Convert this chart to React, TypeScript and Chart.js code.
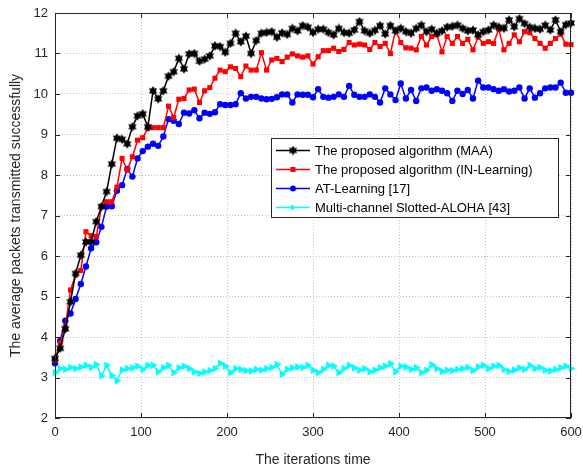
import React, { useEffect, useRef } from 'react';
import { Chart, registerables } from 'chart.js';
Chart.register(...registerables);

// ---- data ----
const STEP = 6;
const maaValues = [
  3.47, 3.72, 4.20, 4.87, 5.57, 6.02, 6.35, 6.35, 6.85, 7.22, 7.59, 8.27, 8.91, 8.88, 8.77, 9.19, 9.46, 9.51, 9.19, 10.08,
  9.88, 10.08, 10.44, 10.55, 10.88, 10.62, 10.99, 11.00, 10.81, 10.86, 10.94, 11.19, 11.17, 11.03, 11.25, 11.50, 11.29, 11.43, 11.00, 11.32,
  11.50, 11.52, 11.54, 11.40, 11.51, 11.47, 11.62, 11.56, 11.69, 11.65, 11.52, 11.60, 11.60, 11.52, 11.46, 11.62, 11.52, 11.50, 11.58, 11.79,
  11.56, 11.50, 11.57, 11.69, 11.48, 11.69, 11.56, 11.62, 11.54, 11.50, 11.62, 11.70, 11.54, 11.60, 11.50, 11.56, 11.65, 11.67, 11.70, 11.62,
  11.56, 11.58, 11.46, 11.54, 11.58, 11.70, 11.65, 11.62, 11.83, 11.66, 11.86, 11.74, 11.65, 11.62, 11.60, 11.70, 11.58, 11.83, 11.54, 11.71,
  11.75,
];
const inLearningValues = [
  3.43, 3.85, 4.25, 5.16, 5.53, 5.64, 6.60, 6.50, 6.48, 7.22, 7.34, 7.34, 7.70, 8.41, 8.12, 8.45, 8.86, 8.92, 9.15, 9.17,
  9.17, 9.17, 9.70, 9.42, 9.87, 9.89, 10.10, 10.12, 9.79, 10.08, 10.16, 10.39, 10.59, 10.55, 10.67, 10.63, 10.43, 10.69, 10.59, 10.59,
  11.02, 10.59, 10.84, 10.88, 10.80, 10.91, 10.99, 10.94, 10.91, 10.94, 10.74, 10.92, 11.07, 11.07, 11.13, 11.05, 11.10, 11.27, 11.21, 11.23,
  11.21, 11.10, 11.27, 11.17, 11.25, 11.00, 11.58, 11.27, 11.14, 11.13, 11.09, 11.42, 11.21, 11.42, 11.46, 11.04, 11.42, 11.25, 11.42, 11.25,
  11.35, 11.09, 11.40, 11.25, 11.29, 11.25, 11.60, 11.09, 11.25, 11.46, 11.29, 11.54, 11.51, 11.37, 11.25, 11.13, 11.25, 11.37, 11.48, 11.23,
  11.22,
];
const atLearningValues = [
  3.35, 3.91, 4.40, 4.58, 4.94, 5.31, 5.74, 6.19, 6.34, 6.72, 7.22, 7.23, 7.61, 7.75, 8.15, 7.96, 8.41, 8.59, 8.70, 8.77,
  8.72, 8.95, 9.38, 9.34, 9.26, 9.54, 9.52, 9.60, 9.40, 9.54, 9.51, 9.55, 9.75, 9.73, 9.73, 9.75, 10.02, 9.89, 9.93, 9.93,
  9.89, 9.87, 9.88, 9.92, 9.99, 9.99, 9.79, 9.99, 9.98, 9.98, 9.92, 10.12, 9.93, 9.91, 9.93, 9.99, 9.93, 10.20, 9.98, 9.93,
  9.93, 9.99, 9.93, 9.79, 10.14, 9.99, 9.85, 10.26, 9.89, 10.10, 9.83, 10.14, 10.16, 10.08, 10.12, 10.08, 10.02, 9.83, 10.08, 10.00,
  10.10, 9.89, 10.33, 10.16, 10.16, 10.12, 10.08, 10.12, 10.06, 10.08, 10.16, 9.89, 10.14, 9.91, 10.02, 10.14, 10.16, 10.16, 10.28, 10.03,
  10.03,
];
const alohaValues = [
  3.12, 3.22, 3.20, 3.25, 3.22, 3.26, 3.30, 3.25, 3.32, 3.04, 3.30, 3.05, 2.92, 3.18, 3.22, 3.24, 3.28, 3.20, 3.30, 3.30,
  3.14, 3.24, 3.30, 3.12, 3.24, 3.28, 3.22, 3.14, 3.10, 3.14, 3.17, 3.22, 3.35, 3.28, 3.12, 3.22, 3.20, 3.17, 3.16, 3.20,
  3.18, 3.22, 3.25, 3.32, 3.08, 3.20, 3.24, 3.26, 3.25, 3.30, 3.18, 3.12, 3.20, 3.30, 3.28, 3.12, 3.22, 3.30, 3.24, 3.18,
  3.22, 3.14, 3.18, 3.24, 3.28, 3.34, 3.14, 3.28, 3.26, 3.20, 3.24, 3.12, 3.18, 3.32, 3.22, 3.15, 3.18, 3.17, 3.20, 3.22,
  3.25, 3.17, 3.26, 3.30, 3.22, 3.28, 3.30, 3.20, 3.15, 3.18, 3.24, 3.20, 3.30, 3.22, 3.25, 3.18, 3.16, 3.20, 3.24, 3.28,
  3.22,
];
const seriesLabels = [
  'The proposed algorithm (MAA)',
  'The proposed algorithm (IN-Learning)',
  'AT-Learning [17]',
  'Multi-channel Slotted-ALOHA [43]',
];
const xTickValues = [0, 100, 200, 300, 400, 500, 600];
const yTickValues = [2, 3, 4, 5, 6, 7, 8, 9, 10, 11, 12];
const xTitle = 'The iterations time';
const yTitle = 'The average packets transmitted successfully';

const FONT = '"Liberation Sans", Arial, Helvetica, sans-serif';
const AXIS_COLOR = '#262626';

function toPoints(vals: number[]) {
  return vals.map((v, i) => ({ x: i * STEP, y: v }));
}

function makeHexagram(size: number, color: string) {
  const c = document.createElement('canvas');
  c.width = size;
  c.height = size;
  const g = c.getContext('2d')!;
  const cx = size / 2;
  const r = size / 2 - 0.2;
  g.fillStyle = color;
  g.beginPath();
  for (let k = 0; k < 12; k++) {
    const ang = -Math.PI / 2 + (k * Math.PI) / 6;
    const rr = k % 2 === 0 ? r : r * 0.577;
    const px = cx + rr * Math.cos(ang);
    const py = cx + rr * Math.sin(ang);
    if (k === 0) g.moveTo(px, py);
    else g.lineTo(px, py);
  }
  g.closePath();
  g.fill();
  return c;
}

function drawMarker(ctx: CanvasRenderingContext2D, kind: string, x: number, y: number, color: string, hex: HTMLCanvasElement) {
  ctx.save();
  ctx.fillStyle = color;
  ctx.strokeStyle = color;
  if (kind === 'hex') {
    ctx.drawImage(hex, x - hex.width / 2, y - hex.height / 2);
  } else if (kind === 'rect') {
    ctx.fillRect(x - 2.5, y - 2.5, 5, 5);
  } else if (kind === 'circle') {
    ctx.beginPath();
    ctx.arc(x, y, 3, 0, Math.PI * 2);
    ctx.fill();
  } else if (kind === 'tri') {
    ctx.beginPath();
    ctx.moveTo(x + 3.5, y);
    ctx.lineTo(x - 2, y - 3);
    ctx.lineTo(x - 2, y + 3);
    ctx.closePath();
    ctx.fill();
  }
  ctx.restore();
}

export default function App() {
  const ref = useRef<HTMLCanvasElement | null>(null);
  useEffect(() => {
    if (!ref.current) return;
    const hex = makeHexagram(10, '#000000');
    const markerKinds = ['hex', 'rect', 'circle', 'tri'];

    const framePlugin = {
      id: 'frame',
      afterDatasetsDraw(chart: any) {
        const { ctx, chartArea: a, scales } = chart;
        ctx.save();
        ctx.strokeStyle = AXIS_COLOR;
        ctx.lineWidth = 1;
        ctx.strokeRect(a.left + 0.5, a.top + 0.5, a.right - a.left - 1, a.bottom - a.top - 1);
        const tl = 5;
        ctx.beginPath();
        scales.x.ticks.forEach((t: any) => {
          const px = Math.round(scales.x.getPixelForValue(t.value)) + 0.5;
          ctx.moveTo(px, a.bottom);
          ctx.lineTo(px, a.bottom - tl);
          ctx.moveTo(px, a.top);
          ctx.lineTo(px, a.top + tl);
        });
        scales.y.ticks.forEach((t: any) => {
          const py = Math.round(scales.y.getPixelForValue(t.value)) + 0.5;
          ctx.moveTo(a.left, py);
          ctx.lineTo(a.left + tl, py);
          ctx.moveTo(a.right, py);
          ctx.lineTo(a.right - tl, py);
        });
        ctx.stroke();

        // legend
        const lw = 287;
        const lh = 79;
        const lx = Math.round(a.right - 13 - lw);
        const ly = Math.round(a.top + 125);
        ctx.fillStyle = '#ffffff';
        ctx.fillRect(lx, ly, lw, lh);
        ctx.strokeStyle = AXIS_COLOR;
        ctx.strokeRect(lx + 0.5, ly + 0.5, lw, lh);
        ctx.font = `13px ${FONT}`;
        ctx.textBaseline = 'middle';
        ctx.textAlign = 'left';
        chart.data.datasets.forEach((ds: any, i: number) => {
          const y = ly + 12.5 + i * 19;
          ctx.strokeStyle = ds.borderColor;
          ctx.lineWidth = 1.5;
          ctx.beginPath();
          ctx.moveTo(lx + 5, y);
          ctx.lineTo(lx + 39, y);
          ctx.stroke();
          drawMarker(ctx, markerKinds[i], lx + 22, y, ds.borderColor, hex);
          ctx.fillStyle = '#000000';
          ctx.fillText(ds.label, lx + 44, y + 0.5);
        });
        ctx.restore();
      },
    };

    const chart = new Chart(ref.current, {
      type: 'line',
      data: {
        datasets: [
          {
            label: seriesLabels[0],
            data: toPoints(maaValues),
            borderColor: '#000000',
            backgroundColor: '#000000',
            borderWidth: 1.5,
            pointStyle: hex as any,
            pointRadius: 4,
            clip: false as any,
          },
          {
            label: seriesLabels[1],
            data: toPoints(inLearningValues),
            borderColor: '#ff0000',
            backgroundColor: '#ff0000',
            borderWidth: 1.5,
            pointStyle: 'rect',
            pointRadius: 3.6,
            pointBorderWidth: 0,
            clip: false as any,
          },
          {
            label: seriesLabels[2],
            data: toPoints(atLearningValues),
            borderColor: '#0000ff',
            backgroundColor: '#0000ff',
            borderWidth: 1.5,
            pointStyle: 'circle',
            pointRadius: 3.2,
            pointBorderWidth: 0,
            clip: false as any,
          },
          {
            label: seriesLabels[3],
            data: toPoints(alohaValues),
            borderColor: '#00ffff',
            backgroundColor: '#00ffff',
            borderWidth: 1.5,
            pointStyle: 'triangle',
            pointRotation: 90,
            pointRadius: 4.5,
            pointBorderWidth: 0,
            clip: false as any,
          },
        ],
      },
      options: {
        animation: false,
        responsive: false,
        maintainAspectRatio: false,
        layout: { padding: { left: 8, right: 12, top: 13, bottom: 0 } },
        plugins: { legend: { display: false }, tooltip: { enabled: false } },
        elements: { line: { tension: 0 } },
        scales: {
          x: {
            type: 'linear',
            min: 0,
            max: 600,
            afterFit: (s: any) => {
              s.height = 52;
              s.paddingLeft = 0;
              s.paddingRight = 0;
            },
            afterBuildTicks: (s: any) => {
              s.ticks = xTickValues.map((v) => ({ value: v }));
            },
            ticks: {
              color: AXIS_COLOR,
              font: { family: FONT, size: 13 },
              padding: 7,
              maxRotation: 0,
              callback: (v: any) => String(v),
            },
            grid: { color: '#c4c4c4', lineWidth: 1, drawTicks: false },
            border: { display: false, dash: [1, 2] },
            title: {
              display: true,
              text: xTitle,
              color: AXIS_COLOR,
              font: { family: FONT, size: 14 },
              padding: { top: 4, bottom: 1 },
            },
          },
          y: {
            type: 'linear',
            min: 2,
            max: 12,
            afterFit: (s: any) => {
              s.width = 47;
              s.paddingTop = 0;
              s.paddingBottom = 0;
            },
            afterBuildTicks: (s: any) => {
              s.ticks = yTickValues.map((v) => ({ value: v }));
            },
            ticks: {
              color: AXIS_COLOR,
              font: { family: FONT, size: 13 },
              padding: 7,
              callback: (v: any) => String(v),
            },
            grid: { color: '#c4c4c4', lineWidth: 1, drawTicks: false },
            border: { display: false, dash: [1, 2] },
            title: {
              display: true,
              text: yTitle,
              color: AXIS_COLOR,
              font: { family: FONT, size: 14 },
              padding: { top: 0, bottom: 0 },
            },
          },
        },
      },
      plugins: [framePlugin],
    });
    return () => chart.destroy();
  }, []);

  return (
    <div style={{ position: 'absolute', left: 0, top: 0, width: 583, height: 470, background: '#fff' }}>
      <canvas ref={ref} width={583} height={470} style={{ display: 'block' }} />
    </div>
  );
}
